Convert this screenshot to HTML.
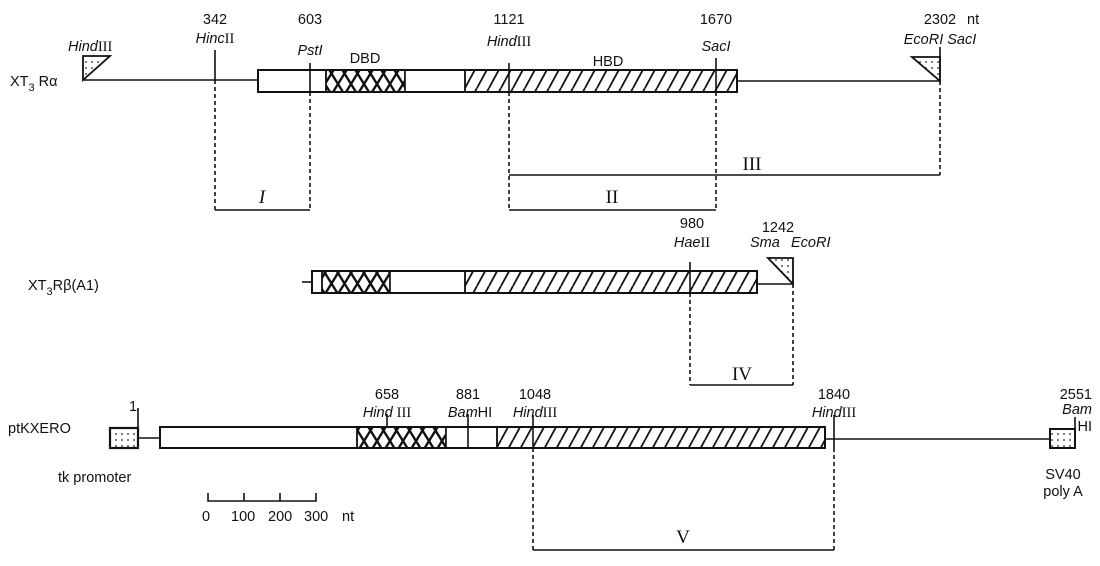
<!DOCTYPE html>
<html><head><meta charset="utf-8"><style>
html,body{margin:0;padding:0;background:#fff;}
svg{display:block;}
text{font-family:"Liberation Sans",sans-serif;font-size:14.5px;fill:#111;}
.i{font-style:italic;}
.r{font-family:"Liberation Serif",serif;font-size:19px;}
</style></head><body>
<svg width="1100" height="566" viewBox="0 0 1100 566" xmlns="http://www.w3.org/2000/svg">
<defs>
<pattern id="hatch" width="12" height="22" patternUnits="userSpaceOnUse">
<path d="M-3,22 L9,0 M9,22 L21,0 M-15,22 L-3,0" stroke="#111" stroke-width="1.8"/>
</pattern>
<pattern id="cross" width="13" height="21" patternUnits="userSpaceOnUse">
<path d="M0,0 L13,21 M13,0 L0,21" stroke="#111" stroke-width="2.4"/>
</pattern>
<pattern id="dots" width="6" height="6" patternUnits="userSpaceOnUse">
<circle cx="2" cy="2" r="0.9" fill="#222"/>
</pattern>
</defs>
<g stroke="#111" stroke-width="1.6" fill="none">
<!-- Row 1 -->
<polygon points="83,56 110,56 83,80" fill="url(#dots)" stroke-width="1.8"/>
<line x1="83" y1="80" x2="258" y2="80"/>
<line x1="215" y1="50" x2="215" y2="80"/>
<rect x="258" y="70" width="68" height="22" fill="#fff"/>
<rect x="326" y="70" width="79" height="22" fill="url(#cross)"/>
<rect x="405" y="70" width="60" height="22" fill="#fff"/>
<rect x="465" y="70" width="272" height="22" fill="url(#hatch)"/>
<rect x="258" y="70" width="479" height="22" stroke-width="2"/>
<line x1="310" y1="63" x2="310" y2="92"/>
<line x1="509" y1="63" x2="509" y2="92"/>
<line x1="716" y1="58" x2="716" y2="92"/>
<line x1="737" y1="81" x2="940" y2="81"/>
<polygon points="912,57 940,57 940,81" fill="url(#dots)" stroke-width="1.8"/>
<line x1="940" y1="47" x2="940" y2="81"/>
<g stroke-dasharray="4,3">
<line x1="215" y1="80" x2="215" y2="210"/>
<line x1="310" y1="92" x2="310" y2="210"/>
<line x1="509" y1="92" x2="509" y2="210"/>
<line x1="716" y1="92" x2="716" y2="210"/>
<line x1="940" y1="81" x2="940" y2="175"/>
</g>
<line x1="215" y1="210" x2="310" y2="210"/>
<line x1="509" y1="210" x2="716" y2="210"/>
<line x1="509" y1="175" x2="940" y2="175"/>
<!-- Row 2 -->
<line x1="302" y1="282" x2="312" y2="282"/>
<rect x="312" y="271" width="10" height="22" fill="#fff"/>
<rect x="322" y="271" width="68" height="22" fill="url(#cross)"/>
<rect x="390" y="271" width="75" height="22" fill="#fff"/>
<rect x="465" y="271" width="292" height="22" fill="url(#hatch)"/>
<rect x="312" y="271" width="445" height="22" stroke-width="2"/>
<line x1="690" y1="262" x2="690" y2="293"/>
<line x1="757" y1="284" x2="793" y2="284"/>
<polygon points="768,258 793,258 793,284" fill="url(#dots)" stroke-width="1.8"/>
<g stroke-dasharray="4,3">
<line x1="690" y1="293" x2="690" y2="385"/>
<line x1="793" y1="284" x2="793" y2="385"/>
</g>
<line x1="690" y1="385" x2="793" y2="385"/>
<!-- Row 3 -->
<rect x="110" y="428" width="28" height="20" fill="url(#dots)" stroke-width="2.2"/>
<line x1="138" y1="408" x2="138" y2="438"/>
<line x1="138" y1="438" x2="160" y2="438"/>
<rect x="160" y="427" width="197" height="21" fill="#fff"/>
<rect x="357" y="427" width="89" height="21" fill="url(#cross)"/>
<rect x="446" y="427" width="51" height="21" fill="#fff"/>
<rect x="497" y="427" width="328" height="21" fill="url(#hatch)"/>
<rect x="160" y="427" width="665" height="21" stroke-width="2"/>
<line x1="387" y1="414" x2="387" y2="427"/>
<line x1="468" y1="414" x2="468" y2="448"/>
<line x1="533" y1="415" x2="533" y2="448"/>
<line x1="834" y1="415" x2="834" y2="448"/>
<line x1="825" y1="439" x2="1050" y2="439"/>
<rect x="1050" y="429" width="25" height="19" fill="url(#dots)" stroke-width="2"/>
<line x1="1075" y1="417" x2="1075" y2="448"/>
<g stroke-dasharray="4,3">
<line x1="533" y1="448" x2="533" y2="550"/>
<line x1="834" y1="448" x2="834" y2="550"/>
</g>
<line x1="533" y1="550" x2="834" y2="550"/>
<!-- scale -->
<path d="M208,493 L208,501 L316,501 L316,493 M244,493 L244,501 M280,493 L280,501"/>
</g>
<!-- labels row 1 -->
<text x="10" y="86" font-size="15">XT<tspan dy="5" font-size="11">3</tspan><tspan dy="-5"> Rα</tspan></text>
<text x="68" y="51" class="i">Hind<tspan font-style="normal" font-family="Liberation Serif">III</tspan></text>
<text x="215" y="24" text-anchor="middle">342</text>
<text x="215" y="43" text-anchor="middle" class="i">Hinc<tspan font-style="normal" font-family="Liberation Serif">II</tspan></text>
<text x="310" y="24" text-anchor="middle">603</text>
<text x="310" y="55" text-anchor="middle" class="i">PstI</text>
<text x="365" y="63" text-anchor="middle">DBD</text>
<text x="509" y="24" text-anchor="middle">1121</text>
<text x="509" y="46" text-anchor="middle" class="i">Hind<tspan font-style="normal" font-family="Liberation Serif">III</tspan></text>
<text x="608" y="66" text-anchor="middle">HBD</text>
<text x="716" y="24" text-anchor="middle">1670</text>
<text x="716" y="51" text-anchor="middle" class="i">SacI</text>
<text x="940" y="24" text-anchor="middle">2302</text>
<text x="967" y="24">nt</text>
<text x="940" y="44" text-anchor="middle" class="i">EcoRI SacI</text>
<text x="262" y="203" text-anchor="middle" class="r i">I</text>
<text x="612" y="203" text-anchor="middle" class="r">II</text>
<text x="752" y="170" text-anchor="middle" class="r">III</text>
<!-- labels row 2 -->
<text x="28" y="290" font-size="15">XT<tspan dy="5" font-size="11">3</tspan><tspan dy="-5">Rβ(A1)</tspan></text>
<text x="692" y="228" text-anchor="middle">980</text>
<text x="692" y="247" text-anchor="middle" class="i">Hae<tspan font-style="normal" font-family="Liberation Serif">II</tspan></text>
<text x="778" y="232" text-anchor="middle">1242</text>
<text x="750" y="247" class="i">Sma</text>
<text x="791" y="247" class="i">EcoRI</text>
<text x="742" y="380" text-anchor="middle" class="r">IV</text>
<!-- labels row 3 -->
<text x="8" y="433" font-size="15">ptKXERO</text>
<text x="133" y="411" text-anchor="middle">1</text>
<text x="58" y="482" font-size="15">tk promoter</text>
<text x="387" y="399" text-anchor="middle">658</text>
<text x="387" y="417" text-anchor="middle" class="i">Hind <tspan font-style="normal" font-family="Liberation Serif">III</tspan></text>
<text x="468" y="399" text-anchor="middle">881</text>
<text x="470" y="417" text-anchor="middle" class="i">Bam<tspan font-style="normal">HI</tspan></text>
<text x="535" y="399" text-anchor="middle">1048</text>
<text x="535" y="417" text-anchor="middle" class="i">Hind<tspan font-style="normal" font-family="Liberation Serif">III</tspan></text>
<text x="834" y="399" text-anchor="middle">1840</text>
<text x="834" y="417" text-anchor="middle" class="i">Hind<tspan font-style="normal" font-family="Liberation Serif">III</tspan></text>
<text x="1092" y="399" text-anchor="end">2551</text>
<text x="1092" y="414" text-anchor="end" class="i">Bam</text>
<text x="1092" y="431" text-anchor="end">HI</text>
<text x="1063" y="479" text-anchor="middle">SV40</text>
<text x="1063" y="496" text-anchor="middle">poly A</text>
<text x="202" y="521">0</text>
<text x="231" y="521">100</text>
<text x="268" y="521">200</text>
<text x="304" y="521">300</text>
<text x="342" y="521">nt</text>
<text x="683" y="543" text-anchor="middle" class="r">V</text>
</svg>
</body></html>
